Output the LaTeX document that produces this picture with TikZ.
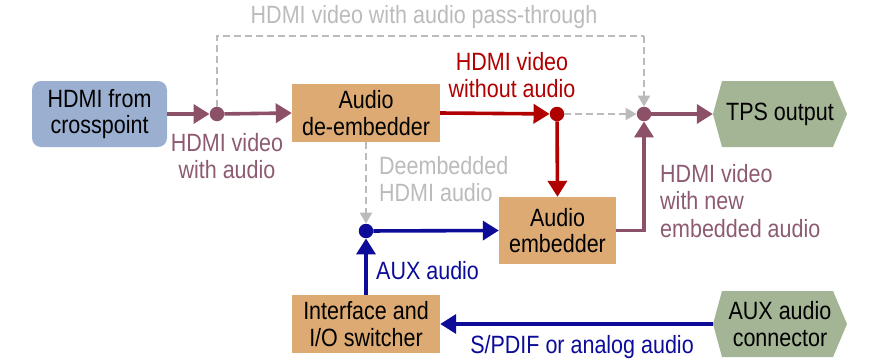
\documentclass[tikz,border=0pt]{standalone}
\usepackage{fontspec}
\setmainfont{Liberation Sans}[FakeStretch=0.86]
\usetikzlibrary{arrows.meta,calc}
\definecolor{boxblue}{HTML}{9BAFD0}
\definecolor{boxorange}{HTML}{DDAA73}
\definecolor{hexgreen}{HTML}{A3B595}
\definecolor{lnpurple}{HTML}{8C5068}
\definecolor{txpurple}{HTML}{8E5A72}
\definecolor{lnred}{HTML}{B00000}
\definecolor{lnblue}{HTML}{0C0C98}
\definecolor{lngray}{HTML}{BBBBBB}
\tikzset{
  txt/.style={font=\fontsize{25}{26.5}\selectfont, align=center, inner sep=0pt},
  lbl/.style={font=\fontsize{25}{27.5}\selectfont, inner sep=0pt},
  orangebox/.style={txt, fill=boxorange},
  hexnode/.style={txt, minimum width=134pt, minimum height=66pt, fill=white,
    path picture={\fill[hexgreen] (path picture bounding box.west)
      -- ([xshift=9pt]path picture bounding box.north west)
      -- ([xshift=-14pt]path picture bounding box.north east)
      -- (path picture bounding box.east)
      -- ([xshift=-14pt]path picture bounding box.south east)
      -- ([xshift=9pt]path picture bounding box.south west) -- cycle;}},
  dotnode/.style={circle, inner sep=0pt, minimum size=14.5pt},
  bigarrow/.style={line width=3.6pt, -{Triangle[length=16pt,width=19pt]}},
  grayarrow/.style={line width=2.5pt, lngray, dash pattern=on 7pt off 4pt, -{Triangle[length=11pt,width=12pt]}},
}
\begin{document}
\begin{tikzpicture}[x=1pt,y=-1pt]
\useasboundingbox (0,0) rectangle (871,364);
% nodes
\node[txt, fill=boxblue, rounded corners=9pt, minimum width=135pt, minimum height=66pt] (hdmi) at (99.5,114) {HDMI from\\crosspoint};
\node[orangebox, minimum width=148pt, minimum height=58pt] (deemb) at (366,113) {Audio\\de-embedder};
\node[orangebox, minimum width=117pt, minimum height=67pt] (emb) at (557.5,230.5) {Audio\\embedder};
\node[orangebox, minimum width=148pt, minimum height=58pt] (intf) at (366,324) {Interface and\\I/O switcher};
\node[hexnode] (tps) at (780,114) {TPS output};
\node[hexnode] (aux) at (780,324) {AUX audio\\connector};
\node[dotnode, fill=lnpurple] (dot1) at (217,114) {};
\node[dotnode, fill=lnred] (rdot) at (557,114) {};
\node[dotnode, fill=lnpurple] (pdot) at (644,114) {};
\node[dotnode, fill=lnblue] (bdot) at (366,231) {};
\coordinate (topl) at (217,36);
\coordinate (topr) at (644,36);
% connectors
\draw[grayarrow, -] (dot1) -- (topl) -- (topr);
\draw[grayarrow] (topr) -- (pdot);
\draw[grayarrow] (rdot) -- (pdot);
\draw[grayarrow] (deemb.south) -- (bdot);
\draw[bigarrow, lnpurple] (hdmi.east) -- (dot1);
\draw[bigarrow, lnpurple] (dot1) -- (deemb.west);
\draw[bigarrow, lnred] (deemb.east) -- (rdot);
\draw[bigarrow, lnred] (rdot) -- (emb.north);
\draw[bigarrow, lnpurple] (pdot) -- (tps.west);
\draw[bigarrow, lnpurple] (emb.east) -| (pdot);
\draw[bigarrow, lnblue] (bdot) -- (emb.west);
\draw[bigarrow, lnblue] (intf.north) -- (bdot);
\draw[bigarrow, lnblue] (aux.west) -- (intf.east);
% labels
\node[lbl, text=lngray] (lpass) at (424,17) {HDMI video with audio pass-through};
\node[lbl, text=lnred, align=center] (lwo) at (512,75) {HDMI video\\without audio};
\node[lbl, text=txpurple, align=center] (lwa) at (227,156) {HDMI video\\with audio};
\node[lbl, text=lngray, align=left, anchor=west] (lde) at (379,179) {Deembedded\\HDMI audio};
\node[lbl, text=lnblue, anchor=west] (laux) at (376,271) {AUX audio};
\node[lbl, text=lnblue] (lspdif) at (582,347) {S/PDIF or analog audio};
\node[lbl, text=txpurple, align=left, anchor=west] (lnew) at (660,201) {HDMI video\\with new\\embedded audio};
\end{tikzpicture}
\end{document}
